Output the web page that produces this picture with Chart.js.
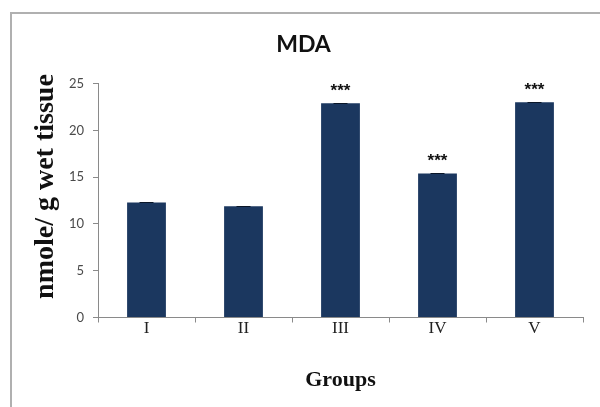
<!DOCTYPE html>
<html>
<head>
<meta charset="utf-8">
<script src="https://cdn.jsdelivr.net/npm/chart.js@4"></script>
<style>
  html, body { margin: 0; padding: 0; background: #ffffff; }
  #wrap { position: relative; width: 600px; height: 407px; overflow: hidden; }
  #frame {
    position: absolute; left: 10px; top: 12px; width: 620px; height: 420px;
    border-left: 2px solid #b0b0b0; border-top: 2px solid #b0b0b0;
  }
  #chart { position: absolute; left: 0; top: 0; }
</style>
</head>
<body>
<div id="wrap">
  <div id="frame"></div>
  <canvas id="chart" width="600" height="407"></canvas>
</div>
<script>
// MDA level per group (nmole / g wet tissue)
const groups = ['I', 'II', 'III', 'IV', 'V'];
const mdaValues = [12.3, 11.9, 22.9, 15.4, 23.0];
const mdaErrors = [0.05, 0.05, 0.05, 0.05, 0.05];
const significance = ['', '', '***', '***', '***'];
const yTicks = [0, 5, 10, 15, 20, 25];
const yTitle = 'nmole/ g wet tissue';

const BAR_COLOR = '#1b375f';
const AXIS_COLOR = '#8a8a8a';

// Small error caps and significance stars above each bar
const barMarks = {
  id: 'barMarks',
  afterDatasetsDraw(chart) {
    const { ctx } = chart;
    const meta = chart.getDatasetMeta(0);
    const yScale = chart.scales.y;
    ctx.save();
    meta.data.forEach((bar, i) => {
      const top = yScale.getPixelForValue(mdaValues[i] + mdaErrors[i]);
      ctx.strokeStyle = '#0a1628';
      ctx.lineWidth = 1;
      ctx.beginPath();
      ctx.moveTo(bar.x - 7, Math.round(top) + 0.5);
      ctx.lineTo(bar.x + 7, Math.round(top) + 0.5);
      ctx.stroke();
      if (significance[i]) {
        ctx.fillStyle = '#111111';
        ctx.font = 'bold 17px "Liberation Sans", Arial, sans-serif';
        ctx.textAlign = 'center';
        ctx.textBaseline = 'alphabetic';
        ctx.fillText(significance[i], bar.x, top - 7);
      }
    });
    ctx.restore();
  }
};

// Vertical axis caption, set a little above the plot's midline
const yCaption = {
  id: 'yCaption',
  afterDraw(chart) {
    const { ctx, chartArea } = chart;
    const cy = (chartArea.top + chartArea.bottom) / 2 - 14;
    ctx.save();
    ctx.translate(46, cy);
    ctx.rotate(-Math.PI / 2);
    ctx.fillStyle = '#111111';
    ctx.font = 'bold 28px "Liberation Serif", "Times New Roman", serif';
    ctx.textAlign = 'center';
    ctx.textBaseline = 'middle';
    ctx.fillText(yTitle, 0, 0);
    ctx.restore();
  }
};

new Chart(document.getElementById('chart'), {
  type: 'bar',
  data: {
    labels: groups,
    datasets: [{
      label: 'MDA',
      data: mdaValues,
      backgroundColor: BAR_COLOR,
      borderWidth: 0,
      barPercentage: 0.8,
      categoryPercentage: 0.5
    }]
  },
  options: {
    responsive: false,
    animation: false,
    devicePixelRatio: 1,
    layout: { padding: { left: 24, right: 17, top: 0, bottom: 0 } },
    plugins: {
      legend: { display: false },
      tooltip: { enabled: false },
      title: {
        display: true,
        text: 'MDA',
        color: '#111111',
        font: { family: 'Lato, "Open Sans", sans-serif', size: 23, weight: 'bold', lineHeight: 1.2 },
        padding: { top: 31, bottom: 25 }
      }
    },
    scales: {
      x: {
        grid: { drawOnChartArea: false, drawTicks: true, tickLength: 5, color: AXIS_COLOR, offset: true },
        border: { color: AXIS_COLOR, width: 1 },
        ticks: {
          color: '#222222',
          padding: -4,
          font: { family: '"Liberation Serif", "Times New Roman", serif', size: 17 }
        },
        title: {
          display: true,
          text: 'Groups',
          color: '#111111',
          font: { family: '"Liberation Serif", "Times New Roman", serif', size: 22, weight: 'bold', lineHeight: 1.2 },
          padding: { top: 0, bottom: 13 }
        },
        afterFit(scale) { scale.height = 89.5; }
      },
      y: {
        min: 0,
        max: 25,
        afterBuildTicks(scale) { scale.ticks = yTicks.map(v => ({ value: v })); },
        grid: { drawOnChartArea: false, drawTicks: true, tickLength: 5, color: AXIS_COLOR },
        border: { color: AXIS_COLOR, width: 1 },
        ticks: {
          color: '#4a4a4a',
          padding: 9,
          font: { family: 'Lato, "Open Sans", sans-serif', size: 13 }
        },
        title: { display: false },
        afterFit(scale) { scale.width = 74; }
      }
    }
  },
  plugins: [barMarks, yCaption]
});
</script>
</body>
</html>
